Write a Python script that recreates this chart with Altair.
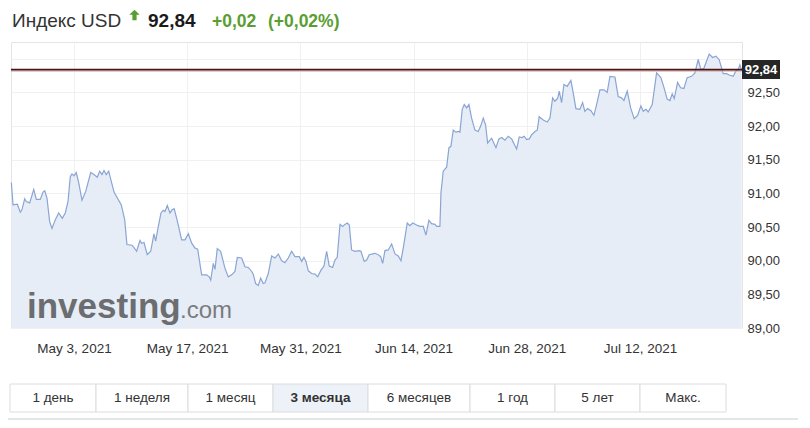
import altair as alt
import pandas as pd

# ---------------- data ----------------
start = "2021-05-03"
days = [-7.75,-7.54,-7.01,-6.64,-6.43,-6.10,-5.90,-5.48,-4.98,-4.66,-4.17,-3.83,-3.62,-3.34,-3.01,-2.72,-2.31,-1.89,-1.45,-1.08,-0.74,-0.46,-0.25,0.00,0.28,0.58,0.99,1.45,2.07,2.47,2.88,3.18,3.46,3.71,3.99,4.29,4.95,5.85,6.27,6.55,7.17,
        7.33,7.75,8.16,8.37,8.66,9.06,9.49,9.89,10.10,10.43,10.76,11.04,11.25,11.54,11.87,12.16,12.40,12.70,13.32,13.73,14.14,14.56,14.96,15.30,15.79,16.41,16.73,16.91,17.23,17.44,17.72,18.14,18.67,19.08,19.50,19.91,20.20,20.74,21.15,21.56,21.98,
        22.17,22.47,22.79,23.09,23.41,23.62,24.03,24.45,24.86,25.27,25.69,26.09,26.50,26.92,27.33,27.86,28.16,28.44,28.69,28.98,29.40,29.80,30.14,30.55,30.92,31.25,31.57,31.99,32.28,32.56,32.90,33.23,33.51,33.80,34.05,34.34,34.75,35.28,35.49,35.90,36.20,36.52,
        37.22,37.63,37.93,38.18,38.46,38.87,39.29,39.70,40.11,40.44,40.73,41.22,41.55,41.89,42.38,42.79,43.20,43.53,43.90,44.24,44.65,44.85,45.26,45.39,45.67,45.88,46.09,46.38,46.62,46.91,47.24,47.53,47.74,48.02,48.27,48.56,48.85,49.18,49.59,50.00,50.30,50.62,50.91,51.16,51.66,
        52.19,52.56,52.89,53.30,53.71,54.13,54.75,55.07,55.40,55.69,55.98,56.31,56.60,57.01,57.30,57.54,58.04,58.53,58.87,59.20,59.48,59.82,60.02,60.31,60.60,61.00,61.46,61.74,62.08,62.57,62.91,63.19,63.53,63.94,64.31,64.64,65.05,65.55,65.95,66.29,66.91,
        67.31,67.73,68.02,68.43,68.85,69.29,69.71,70.12,70.41,70.74,71.02,71.52,72.06,72.59,72.96,73.37,73.71,73.99,74.24,74.66,75.03,75.44,75.84,76.39,76.80,77.21,77.54,77.91,78.57,78.99,79.40,79.80,80.30,80.72,81.04,81.53,81.87,82.15,82.36,82.57]

usd = [91.16,90.83,90.84,90.72,90.76,90.92,90.88,90.86,91.06,90.91,90.91,91.02,91.04,90.93,90.58,90.48,90.61,90.71,90.63,90.71,90.88,91.25,91.29,91.26,91.31,91.16,90.90,91.03,91.31,91.28,91.24,91.33,91.28,91.34,91.28,91.33,91.02,90.83,90.61,90.24,90.23,
       90.21,90.14,90.30,90.26,90.27,90.09,90.14,90.40,90.29,90.51,90.71,90.75,90.73,90.82,90.71,90.76,90.77,90.63,90.31,90.31,90.40,90.26,90.19,90.17,89.79,89.79,89.76,89.71,89.96,89.87,90.18,90.14,89.89,89.76,89.79,89.84,90.05,90.04,89.91,89.90,89.84,
       89.80,89.66,89.63,89.74,89.66,89.67,89.81,90.07,90.04,90.10,90.00,89.97,90.04,90.14,90.06,90.06,89.99,90.05,89.99,89.85,89.81,89.80,89.76,89.86,89.92,90.14,89.92,89.90,90.01,90.05,90.54,90.51,90.54,90.56,90.53,90.16,90.14,90.15,90.14,89.99,90.01,90.09,
       90.11,90.09,90.06,89.96,90.15,90.16,90.25,90.10,90.07,90.00,90.19,90.56,90.52,90.56,90.53,90.51,90.51,90.38,90.60,90.55,90.54,90.51,90.51,91.01,91.33,91.36,91.39,91.68,91.70,91.94,91.91,91.92,91.91,92.25,92.32,92.27,92.32,92.12,91.94,91.92,92.00,92.12,92.02,91.75,91.82,
       91.68,91.81,91.83,91.79,91.85,91.81,91.66,91.84,91.83,91.85,91.80,91.81,91.87,91.92,91.94,92.14,92.09,92.06,92.12,92.42,92.37,92.41,92.52,92.35,92.62,92.59,92.68,92.50,92.26,92.25,92.35,92.22,92.26,92.23,92.16,92.32,92.54,92.54,92.50,92.74,92.73,
       92.44,92.42,92.38,92.52,92.27,92.11,92.16,92.30,92.22,92.25,92.21,92.32,92.79,92.72,92.58,92.40,92.38,92.48,92.41,92.65,92.57,92.56,92.72,92.74,92.79,92.99,92.84,92.86,93.07,93.02,93.04,92.99,92.78,92.78,92.76,92.74,92.82,92.84,92.91,92.84]

tick_dates = ["2021-05-03", "2021-05-17", "2021-05-31", "2021-06-14", "2021-06-28", "2021-07-12"]
y_ticks = [89.0, 89.5, 90.0, 90.5, 91.0, 91.5, 92.0, 92.5, 93.0]
last_value = 92.84
title_name = "Индекс USD"
title_price = "92,84"
title_change = "+0,02"
title_pct = "(+0,02%)"
buttons = ["1 день", "1 неделя", "1 месяц", "3 месяца", "6 месяцев", "1 год", "5 лет", "Макс."]
selected = "3 месяца"

# ---------------- layout ----------------
W, H = 731, 286
FONT = "Liberation Sans"
GREEN = "#5a9e32"
button_edges = [-1, 85, 177, 262, 357, 459, 544, 629, 715]

df = pd.DataFrame({
    "date": pd.Timestamp(start) + pd.to_timedelta(days, unit="D"),
    "value": usd,
})
df_last = pd.DataFrame({"value": [last_value], "label": [title_price]})
one = pd.DataFrame({"k": [0]})


def dt(s, h=0):
    return alt.DateTime(year=int(s[:4]), month=int(s[5:7]), date=int(s[8:10]), hours=h)


xenc = alt.X(
    "date:T",
    scale=alt.Scale(domain=[dt("2021-04-25", 5), dt("2021-07-24", 15)]),
    axis=alt.Axis(values=[dt(s) for s in tick_dates], format="%b %-d, %Y", title=None,
                  labelFont=FONT, labelFontSize=13.5, labelColor="#333333", labelPadding=13,
                  ticks=False, domain=False, grid=True, gridColor="#f0f0f0",
                  labelOverlap=False, labelFlush=False),
)
yenc = alt.Y(
    "value:Q",
    scale=alt.Scale(domain=[89, 93.25], zero=False, nice=False),
    axis=alt.Axis(orient="right", values=y_ticks, title=None,
                  labelExpr="datum.value > 92.9 ? '' : replace(format(datum.value, '.2f'), '.', ',')",
                  labelFont=FONT, labelFontSize=13, labelColor="#333333", labelPadding=5,
                  ticks=False, domain=False, grid=True, gridColor="#f0f0f0"),
)

area = alt.Chart(df).mark_area(color="#e6edf6", opacity=1).encode(x=xenc, y=yenc, y2=alt.datum(89))
line = alt.Chart(df).mark_line(color="#8aa5d4", strokeWidth=1.2).encode(x=xenc, y=yenc)

rule_lo = alt.Chart(df_last).mark_rule(color="#d9a5a5", strokeWidth=1, yOffset=1.5).encode(y=yenc)
rule = alt.Chart(df_last).mark_rule(color="#4a1515", strokeWidth=1.6).encode(y=yenc)

box = alt.Chart(df_last).mark_point(shape="M-1,-0.5H1V0.5H-1Z", filled=True, size=1444,
                                    color="#262626", opacity=1).encode(x=alt.value(750), y=yenc)
box_text = alt.Chart(df_last).mark_text(font=FONT, fontSize=13, fontWeight="bold", color="white",
                                        baseline="middle").encode(x=alt.value(750), y=yenc, text="label:N")


def txt(s, x, y, size, color, weight="normal", align="left", baseline="alphabetic"):
    return alt.Chart(one).mark_text(font=FONT, fontSize=size, fontWeight=weight, color=color,
                                    align=align, baseline=baseline).encode(
        x=alt.value(x), y=alt.value(y), text=alt.value(s))


wm1 = txt("investing", 16, 276, 35, "#6c6d70", "bold")
wm2 = txt(".com", 169, 276, 24, "#7b7c7f")

t1 = txt(title_name, 1, -15, 19, "#333333")
arrow = alt.Chart(one).mark_point(shape="M0,-1L1,-0.05L0.4,-0.05L0.4,1L-0.4,1L-0.4,-0.05L-1,-0.05Z",
                                  filled=True, size=110, color=GREEN, opacity=1, strokeWidth=0).encode(
    x=alt.value(123.5), y=alt.value(-27))
t2 = txt(title_price, 137, -15, 19, "#1a1a1a", "bold")
t3 = txt(title_change, 201, -15, 17.5, GREEN, "bold")
t4 = txt(title_pct, 257, -15, 17.5, GREEN, "bold")

layers = [area, line, rule_lo, rule, wm1, wm2, box, box_text, t1, arrow, t2, t3, t4]

for i, b in enumerate(buttons):
    x0, x1 = button_edges[i], button_edges[i + 1]
    fill = "#edf1f8" if b == selected else "#ffffff"
    layers.append(alt.Chart(one).mark_rect(fill=fill, stroke="#dcdcdc", strokeWidth=1).encode(
        x=alt.value(x0), x2=alt.value(x1), y=alt.value(342), y2=alt.value(370)))
    layers.append(txt(b, (x0 + x1) / 2, 356, 13.5, "#333333",
                      "bold" if b == selected else "normal", align="center", baseline="middle"))

layers.append(alt.Chart(one).mark_rule(color="#cccccc", strokeWidth=1).encode(
    x=alt.value(-3), x2=alt.value(787), y=alt.value(377)))

chart = alt.layer(*layers).properties(
    width=W, height=H,
    autosize=alt.AutoSizeParams(type="none"),
    padding={"left": 3, "top": 34, "right": 56, "bottom": 92},
).configure_view(stroke="#e4e4e4", strokeWidth=1)

chart.save("out.html", embed_options={"renderer": "svg", "actions": False})
